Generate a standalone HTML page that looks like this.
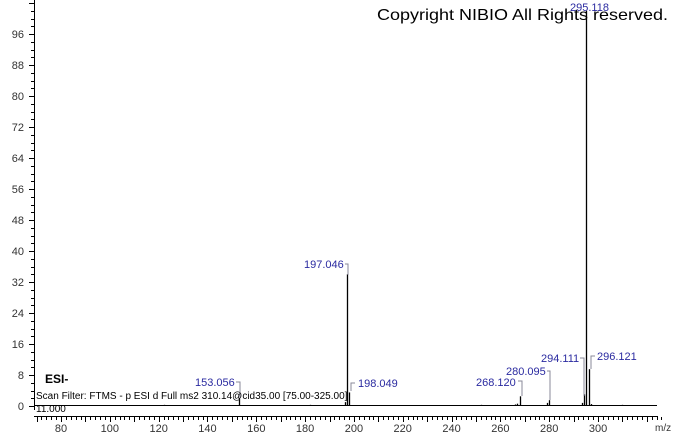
<!DOCTYPE html><html><head><style>body{margin:0;background:#fff}svg{display:block}</style></head><body>
<svg width="674" height="434" xmlns="http://www.w3.org/2000/svg" font-family="Liberation Sans, sans-serif">
<rect width="674" height="434" fill="#fff"/>
<g stroke="#000" stroke-width="1">
<line x1="34.5" y1="0" x2="34.5" y2="410"/>
<line x1="34" y1="416.5" x2="658" y2="416.5"/>
<line x1="35" y1="405.5" x2="657" y2="405.5"/>
</g>
<g id="yt" stroke="#000"></g>
<g id="xt" stroke="#000"></g>
<g font-size="11" fill="#333" text-anchor="end" id="yl"></g>
<g font-size="11" fill="#333" text-anchor="middle" id="xl"></g>
<text x="655" y="431" font-size="10" fill="#333">m/z</text>
<g stroke="#000" stroke-width="1.3" id="pk"></g>
<g stroke="#889" stroke-width="1" fill="none">
<polyline points="345,264 348,264 348,275"/>
<polyline points="236,382 240,382 240,398"/>
<polyline points="355,383 351,383 351,391"/>
<polyline points="518,381 522,381 522,396"/>
<polyline points="547,371 550,371 550,400"/>
<polyline points="580,358 584,358 584,396"/>
<polyline points="595,356 591,356 591,369"/>
</g>
<g font-size="11" fill="#2a2aa0">
<text x="304" y="268">197.046</text>
<text x="195" y="386">153.056</text>
<text x="358" y="387">198.049</text>
<text x="476" y="386">268.120</text>
<text x="506" y="375">280.095</text>
<text x="541" y="362">294.111</text>
<text x="597" y="360">296.121</text>
<text x="570" y="11">295.118</text>
</g>
<text x="377" y="20" font-size="16" fill="#000" textLength="291" lengthAdjust="spacingAndGlyphs">Copyright NIBIO All Rights reserved.</text>
<text x="45" y="383" font-size="12" fill="#000" font-weight="bold">ESI-</text>
<text x="36" y="399" font-size="10" fill="#000">Scan Filter: FTMS - p ESI d Full ms2 310.14@cid35.00 [75.00-325.00]</text>
<text x="36" y="412" font-size="10" fill="#000">11.000</text>
<script>
var ns="http://www.w3.org/2000/svg";
function el(p,t,a,tx){var e=document.createElementNS(ns,t);for(var k in a)e.setAttribute(k,a[k]);if(tx)e.textContent=tx;document.getElementById(p).appendChild(e);}
function Y(v){return 406-v*3.875;}
function X(m){return 61+(m-80)*2.441;}
for(var v=0;v<=104;v+=2){var y=Math.round(Y(v))+.5;el('yt','line',{x1:v%8==0?29:31,x2:34,y1:y,y2:y});}
for(var v=0;v<=96;v+=8)el('yl','text',{x:24,y:Y(v)+4},String(v));
for(var m=70;m<=326;m+=2){var x=Math.round(X(m))+.5;el('xt','line',{x1:x,x2:x,y1:417,y2:m%10==0?422:420});}
for(var m=80;m<=300;m+=20)el('xl','text',{x:X(m),y:432},String(m));
var P=[[295.118,102],[197.046,34],[296.121,9.5],[198.049,3.5],[294.111,3],[268.120,2.5],[280.095,1.5],[153.056,2],[196.5,1],[267,0.6],[266,0.4],[279,0.8],[293.5,0.8],[297,0.5],[122,0.3],[182,0.3],[310,0.3],[252,0.3]];
P.forEach(function(p){var x=Math.round(X(p[0]))+.5;el('pk','line',{x1:x,x2:x,y1:406,y2:Math.max(6,Y(p[1]))});});
</script>
</svg>
</body></html>
